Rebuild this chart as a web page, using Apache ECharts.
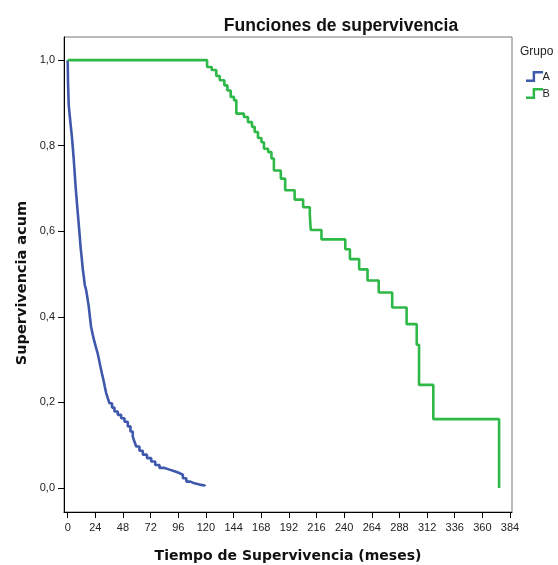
<!DOCTYPE html>
<html>
<head>
<meta charset="utf-8">
<script src="https://cdn.jsdelivr.net/npm/echarts@6/dist/echarts.min.js"></script>
<style>html,body{margin:0;padding:0;background:#fff}#c{width:558px;height:565px}</style>
</head>
<body>
<div id="c"></div>
<script>
// Group A: event times (months) and cumulative survival after each step
const timesA = [0, 0.3, 0.9, 2.3, 3.8, 5.2, 6.1, 7.0, 8.4, 9.9, 11.3, 12.2, 13.0, 14.0, 14.8, 16.0, 17.2, 18.3, 19.3, 20.3, 21.8, 23.2, 24.6, 26.0, 27.2, 28.4, 29.7, 31.0, 32.2, 33.4, 34.8, 36.3, 38.5, 40.6, 43.5, 46.4, 49.3, 52.2, 54.5, 56.5, 58.0, 59.5, 62.3, 65.2, 68.8, 72.5, 76.0, 79.7, 84.0, 88.4, 92.7, 97.0, 100.0, 103.0, 106.5, 110.0, 114.5, 119.0];
const survA = [1.0, 0.946, 0.895, 0.856, 0.817, 0.77, 0.735, 0.70, 0.654, 0.607, 0.56, 0.537, 0.514, 0.494, 0.475, 0.463, 0.443, 0.424, 0.40, 0.377, 0.358, 0.342, 0.328, 0.315, 0.30, 0.284, 0.268, 0.253, 0.237, 0.222, 0.21, 0.198, 0.188, 0.179, 0.171, 0.163, 0.155, 0.144, 0.132, 0.120, 0.108, 0.097, 0.087, 0.078, 0.070, 0.062, 0.054, 0.047, 0.043, 0.039, 0.035, 0.031, 0.023, 0.015, 0.011, 0.008, 0.006, 0.004];
// Group B
const timesB = [0, 121, 125, 129, 132, 136, 138.6, 141.5, 144.4, 146.4, 153, 156.5, 160, 162.3, 165.2, 168.2, 170.4, 174, 176.9, 179, 185, 188.8, 197, 204.4, 210.2, 211, 220.3, 241, 245, 253, 260.3, 270, 281.7, 294.2, 303, 305, 317.4, 374.5];
const survB = [1.0, 0.984, 0.977, 0.963, 0.953, 0.941, 0.929, 0.914, 0.906, 0.875, 0.867, 0.855, 0.844, 0.832, 0.818, 0.808, 0.793, 0.785, 0.77, 0.742, 0.723, 0.696, 0.674, 0.656, 0.638, 0.603, 0.581, 0.558, 0.535, 0.511, 0.485, 0.457, 0.422, 0.383, 0.335, 0.241, 0.161, 0.0];
const groups = ['A', 'B'];
const xTicks = [0, 24, 48, 72, 96, 120, 144, 168, 192, 216, 240, 264, 288, 312, 336, 360, 384];
const yTicks = [0, 0.2, 0.4, 0.6, 0.8, 1.0];

const colA = '#3E58AC', colB = '#2EB848';
const stepIcon = 'path://M0,9 L7,9 L7,0 L18,0 L18,2.6 L9.6,2.6 L9.6,11.6 L0,11.6 Z';

const chart = echarts.init(document.getElementById('c'), null, {renderer: 'canvas'});
chart.setOption({
  animation: false,
  backgroundColor: '#fff',
  title: {
    text: 'Funciones de supervivencia',
    left: 336, top: 12, textAlign: 'center',
    textStyle: {fontFamily: 'Liberation Sans', fontWeight: 'bold', fontSize: 17.5, color: '#111'}
  },
  legend: {
    data: groups.map((g, i) => ({name: g, icon: stepIcon, itemStyle: {color: i ? colB : colA}})),
    orient: 'vertical', left: 521, top: 66,
    itemWidth: 18, itemHeight: 11, itemGap: 6,
    textStyle: {fontFamily: 'Liberation Sans', fontSize: 11, color: '#222', padding: [0, 0, 0, -6]}
  },
  graphic: [
    {type: 'text', left: 520, top: 46, style: {text: 'Grupo', font: '12px "Liberation Sans"', fill: '#222'}},
    {type: 'text', x: 288, y: 556, style: {text: 'Tiempo de Supervivencia (meses)', font: 'bold 14px "DejaVu Sans"', fill: '#111', align: 'center', verticalAlign: 'middle'}},
    {type: 'text', x: 22, y: 283, rotation: Math.PI / 2, style: {text: 'Supervivencia acum', font: 'bold 14.5px "DejaVu Sans"', fill: '#111', align: 'center', verticalAlign: 'middle'}}
  ],
  grid: {left: 64, right: 46, top: 37, bottom: 53, show: true, borderColor: '#777', borderWidth: 1, backgroundColor: 'transparent'},
  xAxis: {
    type: 'value', min: -3.2, max: 385.7,
    axisLine: {show: true, onZero: false, lineStyle: {color: '#000', width: 1}},
    axisTick: {show: true, length: 6, customValues: xTicks, lineStyle: {color: '#000'}},
    axisLabel: {customValues: xTicks, fontFamily: 'Liberation Sans', fontSize: 11, color: '#222', margin: 10},
    splitLine: {show: false}
  },
  yAxis: {
    type: 'value', min: -0.056, max: 1.054,
    axisLine: {show: true, onZero: false, lineStyle: {color: '#000', width: 1}},
    axisTick: {show: true, length: 6, customValues: yTicks, lineStyle: {color: '#000'}},
    axisLabel: {customValues: yTicks, fontFamily: 'Liberation Sans', fontSize: 11, color: '#222', margin: 9,
      formatter: v => v.toFixed(1).replace('.', ',')},
    splitLine: {show: false}
  },
  series: [
    {name: 'A', type: 'line', step: 'end', showSymbol: false, data: timesA.map((t, i) => [t, survA[i]]),
     lineStyle: {color: colA, width: 2.6}, itemStyle: {color: colA}},
    {name: 'B', type: 'line', step: 'end', showSymbol: false, data: timesB.map((t, i) => [t, survB[i]]),
     lineStyle: {color: colB, width: 2.6}, itemStyle: {color: colB}}
  ]
});
</script>
</body>
</html>
